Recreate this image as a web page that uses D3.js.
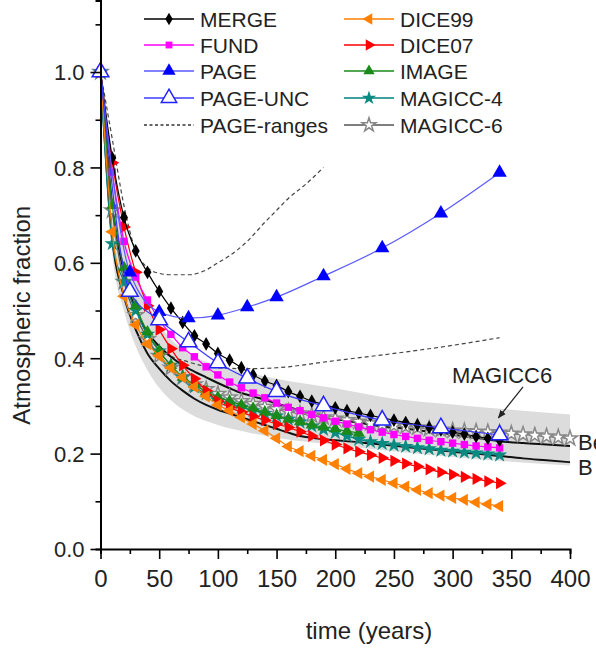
<!DOCTYPE html>
<html lang="en">
	<head>
		<meta charset="utf-8">
		<title>Atmospheric fraction</title>
		<script src="https://d3js.org/d3.v7.min.js"></script>
		<style type="text/css">
			body, html {
				margin: 0;
				padding: 0;
				background: #fff;
			}
			svg text {
				font-family: "Liberation Sans", Arial, sans-serif;
			}
		</style>
	</head>
	<body>
		<div id="chart"></div>
		<script type="text/javascript">

		// time axes (years)
		var t10 = [0,10,20,30,40,50,60,70,80,90,100,110,120,130,140,150,160,170,180,190,200,210,220,230,240,250,260,270,280,290,300,310,320,330,340]
		var t10long = [0,10,20,30,40,50,60,70,80,90,100,110,120,130,140,150,160,170,180,190,200,210,220,230,240,250,260,270,280,290,300,310,320,330,340,350,360,370,380,390,400]
		var tImage = [0,10,20,30,40,50,60,70,80,90,100,110,120,130,140,150,160,170,180,190,200,210,220]
		var tPage = [0,25,50,75,100,125,150,190,240,290,340]
		var tBern = [0,10,20,30,40,50,60,70,80,90,100,110,120,130,140,150,160,170,180,190,200,220,240,260,280,300,320,340,360,380,400]
		var tBand = [0,10,20,30,40,50,60,75,100,125,150,200,250,300,350,400]
		var tRangeHi = [0,10,20,30,40,50,60,75,90,100,110,125,140,150,160,175,190]
		var tRangeLo = [0,10,20,30,40,50,75,100,125,150,200,250,300,340]

		// series values (atmospheric fraction)
		var merge = [1.0,0.82,0.695,0.625,0.58,0.54,0.505,0.475,0.447,0.43,0.41,0.396,0.38,0.365,0.352,0.343,0.33,0.32,0.31,0.303,0.296,0.29,0.285,0.28,0.275,0.27,0.265,0.26,0.255,0.25,0.245,0.241,0.236,0.232,0.228]
		var fund = [1.0,0.79,0.645,0.57,0.522,0.48,0.45,0.422,0.403,0.382,0.365,0.35,0.338,0.327,0.317,0.306,0.297,0.29,0.282,0.275,0.268,0.262,0.256,0.25,0.245,0.24,0.236,0.232,0.228,0.225,0.222,0.219,0.216,0.214,0.212]
		var page = [1.0,0.58,0.497,0.484,0.49,0.507,0.528,0.572,0.631,0.704,0.789]
		var pageUnc = [1.0,0.54,0.48,0.434,0.39,0.358,0.33,0.30,0.27,0.254,0.239]
		var pageHi = [1.0,0.86,0.72,0.625,0.59,0.578,0.575,0.575,0.585,0.6,0.615,0.645,0.685,0.71,0.735,0.765,0.80]
		var pageLo = [1.0,0.72,0.58,0.5,0.45,0.42,0.392,0.38,0.378,0.38,0.395,0.41,0.427,0.443]
		var dice99 = [1.0,0.665,0.53,0.47,0.43,0.405,0.38,0.36,0.34,0.32,0.302,0.29,0.276,0.262,0.248,0.232,0.215,0.205,0.195,0.187,0.178,0.168,0.159,0.152,0.145,0.138,0.131,0.124,0.117,0.112,0.107,0.103,0.098,0.094,0.09]
		var dice07 = [1.0,0.81,0.675,0.58,0.51,0.46,0.42,0.385,0.357,0.332,0.31,0.297,0.287,0.278,0.27,0.262,0.255,0.246,0.237,0.228,0.219,0.211,0.204,0.197,0.191,0.185,0.179,0.173,0.167,0.161,0.156,0.151,0.147,0.142,0.138]
		var image = [1.0,0.72,0.59,0.51,0.455,0.415,0.385,0.36,0.345,0.33,0.318,0.31,0.302,0.295,0.287,0.28,0.272,0.267,0.26,0.256,0.252,0.247,0.243]
		var magicc4 = [1.0,0.64,0.56,0.5,0.45,0.415,0.385,0.36,0.34,0.325,0.312,0.304,0.297,0.29,0.284,0.279,0.272,0.266,0.258,0.251,0.244,0.237,0.23,0.225,0.221,0.218,0.215,0.212,0.21,0.207,0.205,0.203,0.201,0.199,0.197]
		var magicc6 = [1.0,0.71,0.56,0.49,0.44,0.405,0.38,0.36,0.345,0.335,0.325,0.318,0.31,0.304,0.298,0.293,0.288,0.284,0.28,0.276,0.273,0.27,0.267,0.264,0.261,0.259,0.257,0.255,0.252,0.25,0.248,0.247,0.246,0.245,0.244,0.242,0.24,0.238,0.236,0.234,0.232]
		var bernHi = [1.0,0.72,0.58,0.5,0.455,0.425,0.403,0.385,0.372,0.36,0.348,0.337,0.327,0.32,0.313,0.305,0.298,0.29,0.285,0.28,0.273,0.265,0.257,0.252,0.246,0.24,0.233,0.226,0.222,0.219,0.216]
		var bernLo = [1.0,0.65,0.53,0.46,0.41,0.378,0.352,0.332,0.315,0.302,0.292,0.284,0.276,0.268,0.26,0.252,0.244,0.237,0.233,0.23,0.228,0.224,0.219,0.214,0.209,0.204,0.2,0.195,0.19,0.186,0.182]
		var bandHi = [1.0,0.80,0.66,0.575,0.515,0.47,0.44,0.41,0.385,0.37,0.357,0.337,0.315,0.303,0.292,0.282]
		var bandLo = [1.0,0.62,0.5,0.425,0.375,0.338,0.312,0.285,0.26,0.245,0.233,0.218,0.205,0.193,0.183,0.175]

		var xTicks = [0,50,100,150,200,250,300,350,400]
		var yTicks = [0.0,0.2,0.4,0.6,0.8,1.0]

		var zip = function (ts, vs) {
			return ts.map((t, i) => ({t: t, v: vs[i]}))
		}

		var svg = d3.select("#chart").append("svg")
			.attr("width", 596)
			.attr("height", 650)

		var xScale = d3.scaleLinear().domain([0, 400]).range([100.5, 570])
		var yScale = d3.scaleLinear().domain([0, 1.15]).range([549, 0.5])

		var line = d3.line()
			.x(d => xScale(d.t))
			.y(d => yScale(d.v))
			.curve(d3.curveMonotoneX)

		// MAGICC6 range band
		var band = tBand.map((t, i) => ({t: t, lo: bandLo[i], hi: bandHi[i]}))
		svg.append("path")
			.attr("d", d3.area()
				.x(d => xScale(d.t))
				.y0(d => yScale(d.lo))
				.y1(d => yScale(d.hi))
				.curve(d3.curveMonotoneX)(band))
			.attr("fill", "#dcdcdc")

		// PAGE ranges
		;[zip(tRangeHi, pageHi), zip(tRangeLo, pageLo)].forEach(d => {
			svg.append("path")
				.attr("d", line(d))
				.attr("fill", "none")
				.attr("stroke", "#444")
				.attr("stroke-width", 1.2)
				.attr("stroke-dasharray", "4,3")
		})

		// Bern curves
		;[zip(tBern, bernHi), zip(tBern, bernLo)].forEach(d => {
			svg.append("path")
				.attr("d", line(d))
				.attr("fill", "none")
				.attr("stroke", "#111")
				.attr("stroke-width", 2)
		})

		var series = [
			{name: "MAGICC-6", data: zip(t10long, magicc6), line: "#555", shape: d3.symbolStar, size: 70, fill: "#fff", stroke: "#888", rot: 0},
			{name: "MAGICC-4", data: zip(t10, magicc4), line: "#008080", shape: d3.symbolStar, size: 75, fill: "#0a8a80", stroke: "none", rot: 0},
			{name: "IMAGE", data: zip(tImage, image), line: "#1a8a1a", shape: d3.symbolTriangle, size: 65, fill: "#1a8a1a", stroke: "none", rot: 0},
			{name: "DICE07", data: zip(t10, dice07), line: "#ff0000", shape: d3.symbolTriangle, size: 65, fill: "#ff0000", stroke: "none", rot: 90},
			{name: "DICE99", data: zip(t10, dice99), line: "#ff8000", shape: d3.symbolTriangle, size: 65, fill: "#ff8000", stroke: "none", rot: -90},
			{name: "FUND", data: zip(t10, fund), line: "#ff00ff", shape: d3.symbolSquare, size: 55, fill: "#ff00ff", stroke: "none", rot: 0},
			{name: "MERGE", data: zip(t10, merge), line: "#000", shape: d3.symbolDiamond, size: 55, fill: "#000", stroke: "none", rot: 0},
			{name: "PAGE", data: zip(tPage, page), line: "#5a5aff", shape: d3.symbolTriangle, size: 90, fill: "#0000ff", stroke: "none", rot: 0},
			{name: "PAGE-UNC", data: zip(tPage, pageUnc), line: "#3a3aff", shape: d3.symbolTriangle, size: 120, fill: "#fff", stroke: "#2222ff", rot: 0}
		]

		series.forEach(s => {
			svg.append("path")
				.attr("d", line(s.data))
				.attr("fill", "none")
				.attr("stroke", s.line)
				.attr("stroke-width", 1.2)
			svg.append("g").selectAll("path")
				.data(s.data)
				.enter().append("path")
				.attr("d", d3.symbol().type(s.shape).size(s.size))
				.attr("transform", d => "translate(" + xScale(d.t) + "," + yScale(d.v) + ") rotate(" + s.rot + ")")
				.attr("fill", s.fill)
				.attr("stroke", s.stroke)
				.attr("stroke-width", 1.5)
		})

		// axes
		var xAxis = svg.append("g")
			.attr("transform", "translate(0," + yScale(0) + ")")
		xAxis.call(d3.axisBottom(xScale).tickValues(d3.range(0, 401, 25)).tickSize(5).tickFormat(""))
		xAxis.call(g => g.selectAll(".tick").filter(d => xTicks.indexOf(d) >= 0).select("line").attr("y2", 10))
		xAxis.selectAll(".tick").filter(d => xTicks.indexOf(d) >= 0).append("text")
			.attr("y", 38)
			.attr("fill", "#222")
			.attr("text-anchor", "middle")
			.style("font-size", "24px")
			.text(d => d)

		var yAxis = svg.append("g")
			.attr("transform", "translate(" + xScale(0) + ",0)")
		yAxis.call(d3.axisLeft(yScale).tickValues(d3.range(0, 1.11, 0.1)).tickSize(5).tickFormat(""))
		yAxis.call(g => g.selectAll(".tick").filter(d => yTicks.some(v => Math.abs(v - d) < 1e-6)).select("line").attr("x2", -10))
		yAxis.selectAll(".tick").filter(d => yTicks.some(v => Math.abs(v - d) < 1e-6)).append("text")
			.attr("x", -16)
			.attr("dy", "0.36em")
			.attr("fill", "#222")
			.attr("text-anchor", "end")
			.style("font-size", "22px")
			.text(d => d3.format(".1f")(d))

		svg.selectAll(".domain").attr("stroke-width", 2)
		svg.selectAll(".tick line").attr("stroke-width", 1.6)

		svg.append("text")
			.text("time (years)")
			.attr("text-anchor", "middle")
			.attr("x", 369)
			.attr("y", 639)
			.style("font-size", "24px")
			.attr("fill", "#222")

		svg.append("text")
			.text("Atmospheric fraction")
			.attr("text-anchor", "middle")
			.attr("transform", "translate(30," + yScale(0.49) + ") rotate(-90)")
			.style("font-size", "24px")
			.attr("fill", "#222")

		// annotation
		var defs = svg.append("defs")
		defs.append("marker")
			.attr("id", "arrow")
			.attr("viewBox", "0 0 10 10")
			.attr("refX", 9).attr("refY", 5)
			.attr("markerWidth", 7).attr("markerHeight", 7)
			.attr("orient", "auto")
			.append("path").attr("d", "M0,1 L10,5 L0,9 z").attr("fill", "#222")

		svg.append("text")
			.text("MAGICC6")
			.attr("x", 452)
			.attr("y", 383)
			.style("font-size", "22px")
			.attr("fill", "#222")
		svg.append("line")
			.attr("x1", xScale(360)).attr("y1", yScale(0.34))
			.attr("x2", xScale(339)).attr("y2", yScale(0.275))
			.attr("stroke", "#222")
			.attr("stroke-width", 1.2)
			.attr("marker-end", "url(#arrow)")

		// curve labels at the right edge (cut off in the original figure)
		svg.append("text").text("Be").attr("x", 578).attr("y", 450).style("font-size", "22px").attr("fill", "#222")
		svg.append("text").text("B").attr("x", 578).attr("y", 475).style("font-size", "22px").attr("fill", "#222")

		// legend
		var legendLeft = [series[6], series[5], series[7], series[8], {name: "PAGE-ranges", dashed: true}]
		var legendRight = [series[4], series[3], series[2], series[1], series[0]]
		var legendRows = [19, 45, 71, 98, 125]

		var drawLegend = function (items, x0) {
			items.forEach((s, i) => {
				var y = legendRows[i]
				var g = svg.append("g")
				if (s.dashed) {
					g.append("line")
						.attr("x1", x0).attr("x2", x0 + 50)
						.attr("y1", y).attr("y2", y)
						.attr("stroke", "#333").attr("stroke-width", 1.3)
						.attr("stroke-dasharray", "3,2.5")
				} else {
					g.append("line")
						.attr("x1", x0).attr("x2", x0 + 50)
						.attr("y1", y).attr("y2", y)
						.attr("stroke", s.line).attr("stroke-width", 1.3)
					g.append("path")
						.attr("d", d3.symbol().type(s.shape).size(s.size * 0.85))
						.attr("transform", "translate(" + (x0 + 25) + "," + y + ") rotate(" + s.rot + ")")
						.attr("fill", s.fill)
						.attr("stroke", s.stroke)
						.attr("stroke-width", 1.5)
				}
				g.append("text")
					.text(s.name)
					.attr("x", x0 + 56)
					.attr("y", y)
					.attr("dy", "0.36em")
					.style("font-size", "21px")
					.attr("fill", "#222")
			})
		}
		drawLegend(legendLeft, 144)
		drawLegend(legendRight, 344)

		</script>
	</body>
</html>
